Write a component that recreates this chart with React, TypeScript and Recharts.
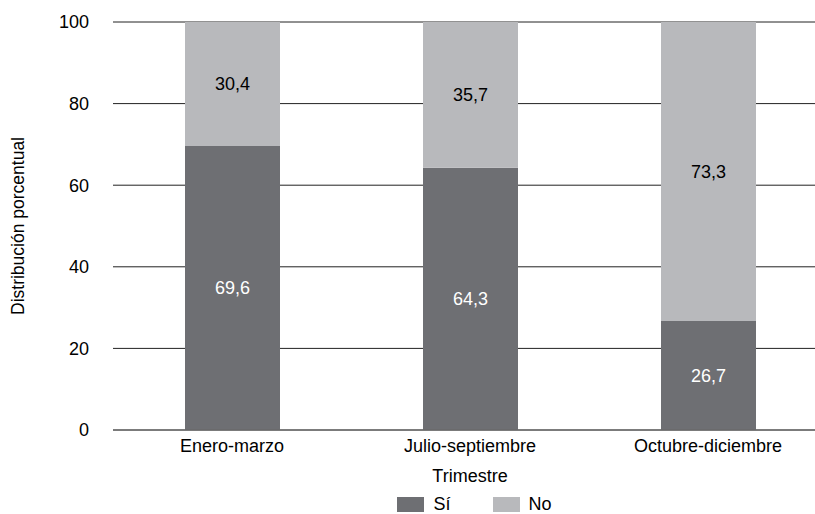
import React from "react";
import { BarChart, Bar, XAxis, YAxis, CartesianGrid, Legend, LabelList, Label } from "recharts";

const categories = ["Enero-marzo", "Julio-septiembre", "Octubre-diciembre"];
const siValues = [69.6, 64.3, 26.7];
const noValues = [30.4, 35.7, 73.3];
const yTicks = [0, 20, 40, 60, 80, 100];

const data = categories.map((c, i) => ({ name: c, si: siValues[i], no: noValues[i] }));

const FONT = "'Liberation Sans', Arial, Helvetica, sans-serif";
const DARK = "#6e6f73";
const LIGHT = "#b8b9bc";
const FS = 18;

const fmt = (v: any) => String(v).replace(".", ",");

const YLabel = (props: any) => {
  const vb = props.viewBox || {};
  const cy = vb.y + vb.height / 2;
  const x = 18;
  return (
    <text
      x={x}
      y={cy}
      transform={`rotate(-90, ${x}, ${cy})`}
      textAnchor="middle"
      dominantBaseline="central"
      fontSize={17.5}
      fill="#000"
      fontFamily={FONT}
    >
      Distribución porcentual
    </text>
  );
};

const LegendContent = () => (
  <div style={{ display: "flex", justifyContent: "center", alignItems: "center", fontFamily: FONT, fontSize: FS, color: "#000", height: 24, paddingLeft: 122, paddingTop: 5, boxSizing: "border-box" }}>
    <span style={{ display: "inline-block", width: 27, height: 15, background: DARK, marginRight: 9 }} />
    <span style={{ marginRight: 42 }}>Sí</span>
    <span style={{ display: "inline-block", width: 27, height: 15, background: LIGHT, marginRight: 9 }} />
    <span>No</span>
  </div>
);

export default function App() {
  return (
    <div style={{ position: "fixed", left: 0, top: 0, width: 815, height: 514, overflow: "hidden", background: "#fff" }}>
      <BarChart
        width={830}
        height={514}
        data={data}
        margin={{ top: 22, right: 3, bottom: 0, left: 0 }}
        barSize={95}
      >
        <CartesianGrid vertical={false} stroke="#222" strokeWidth={1} />
        <XAxis
          dataKey="name"
          tickLine={false}
          axisLine={{ stroke: "#666" }}
          height={60}
          tick={{ fontSize: FS, fill: "#000", fontFamily: FONT }}
          tickMargin={3}
        >
          <Label value="Trimestre" position="insideBottom" offset={8} style={{ fontSize: FS, fill: "#000", fontFamily: FONT }} />
        </XAxis>
        <YAxis
          width={113}
          domain={[0, 100]}
          ticks={yTicks}
          tickLine={false}
          axisLine={false}
          tickMargin={18}
          tick={{ fontSize: FS, fill: "#000", fontFamily: FONT }}
        >
          <Label content={<YLabel />} />
        </YAxis>
        <Legend verticalAlign="bottom" height={24} content={<LegendContent />} />
        <Bar dataKey="si" stackId="a" fill={DARK} isAnimationActive={false} name="Sí">
          <LabelList dataKey="si" position="center" fill="#fff" fontSize={FS} fontFamily={FONT} formatter={fmt} />
        </Bar>
        <Bar dataKey="no" stackId="a" fill={LIGHT} isAnimationActive={false} name="No">
          <LabelList dataKey="no" position="center" fill="#000" fontSize={FS} fontFamily={FONT} formatter={fmt} />
        </Bar>
      </BarChart>
    </div>
  );
}
